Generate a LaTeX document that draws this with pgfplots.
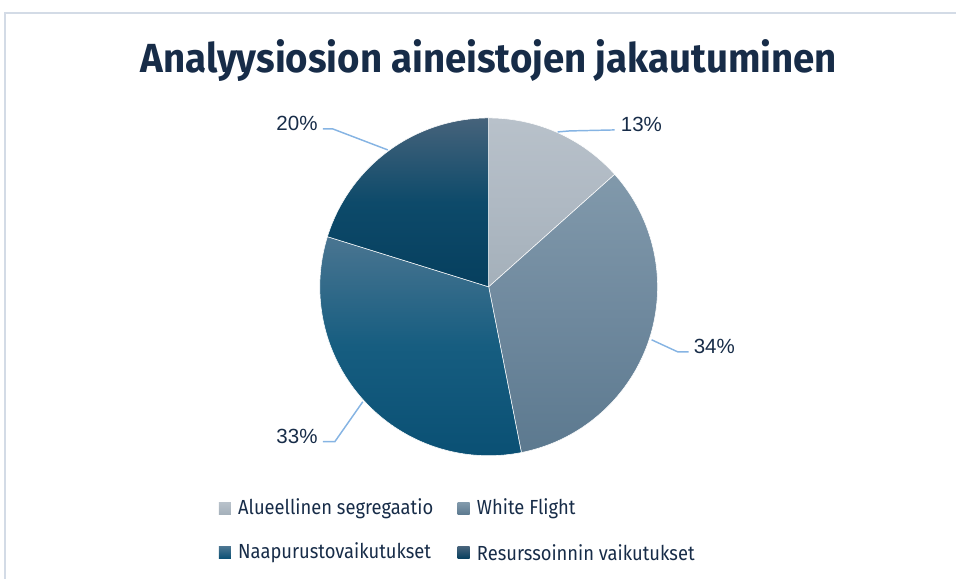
\documentclass[border=0pt]{standalone}
\usepackage{fontspec}
\setmainfont{Liberation Sans}
\newfontfamily\titlefont[FakeStretch=0.945]{Fira Sans}
\newfontfamily\legfont[FakeStretch=0.90]{Fira Sans}
\usepackage{pgfplots}
\usepackage{pgfplotstable}
\pgfplotsset{compat=1.18}

\definecolor{txt}{HTML}{172C48}
\definecolor{lead}{HTML}{86B4E3}
\definecolor{frame}{HTML}{D3DBE6}
\definecolor{sAt}{HTML}{B8C1CA}\definecolor{sAm}{HTML}{AFB9C3}\definecolor{sAb}{HTML}{A4B0BA}
\definecolor{sBt}{HTML}{8199AB}\definecolor{sBm}{HTML}{6F899E}\definecolor{sBb}{HTML}{5C798F}
\definecolor{sCt}{HTML}{4A7591}\definecolor{sCm}{HTML}{165D80}\definecolor{sCb}{HTML}{0A5074}
\definecolor{sDt}{HTML}{46637B}\definecolor{sDm}{HTML}{0D4A6A}\definecolor{sDb}{HTML}{063F5E}

% shares of the four categories, in percent
\pgfplotstableread{
share
13.4
33.5
32.9
20.2
}\piedata

\pgfplotstablegetelem{0}{share}\of\piedata\let\va\pgfplotsretval
\pgfplotstablegetelem{1}{share}\of\piedata\let\vb\pgfplotsretval
\pgfplotstablegetelem{2}{share}\of\piedata\let\vc\pgfplotsretval
\pgfplotstablegetelem{3}{share}\of\piedata\let\vd\pgfplotsretval
\pgfmathsetmacro\aA{0}
\pgfmathsetmacro\aB{3.6*\va}
\pgfmathsetmacro\aC{3.6*(\va+\vb)}
\pgfmathsetmacro\aD{3.6*(\va+\vb+\vc)}
\pgfmathsetmacro\aE{3.6*(\va+\vb+\vc+\vd)}

\begin{document}
\begin{tikzpicture}
\begin{axis}[
  scale only axis, width=717.75pt, height=434.25pt,
  xmin=0, xmax=957, ymin=0, ymax=579, y dir=reverse,
  hide axis, clip=false,
]
\path[draw=none] (axis cs:0,0) rectangle (axis cs:957,579);
% frame
\draw[frame, line width=0.9pt] (axis cs:5,579) -- (axis cs:5,13) -- (axis cs:957,13);

% title
\node[txt, anchor=base, font={\titlefont\bfseries\fontsize{30.5}{34}\selectfont}] at (axis cs:489,73) {Analyysiosion aineistojen jakautuminen};

% slices
\addplot[draw=white, line width=0.4pt, top color=sAt, bottom color=sAb, middle color=sAm, domain=\aA:\aB, samples=40, variable=\t]
  ({489+169*sin(\t)},{287-169*cos(\t)}) -- (axis cs:489,287) -- cycle;
\addplot[draw=white, line width=0.4pt, top color=sBt, bottom color=sBb, middle color=sBm, domain=\aB:\aC, samples=80, variable=\t]
  ({489+169*sin(\t)},{287-169*cos(\t)}) -- (axis cs:489,287) -- cycle;
\addplot[draw=white, line width=0.4pt, top color=sCt, bottom color=sCb, middle color=sCm, domain=\aC:\aD, samples=80, variable=\t]
  ({489+169*sin(\t)},{287-169*cos(\t)}) -- (axis cs:489,287) -- cycle;
\addplot[draw=white, line width=0.4pt, top color=sDt, bottom color=sDb, middle color=sDm, domain=\aD:\aE, samples=60, variable=\t]
  ({489+169*sin(\t)},{287-169*cos(\t)}) -- (axis cs:489,287) -- cycle;

% leader lines
\addplot[lead, line width=1.1pt, mark=none] coordinates {(558,132) (570,131) (615,130)};
\addplot[lead, line width=1.1pt, mark=none] coordinates {(652,340) (678,352) (689,352)};
\addplot[lead, line width=1.1pt, mark=none] coordinates {(363,402) (335,442) (323,442)};
\addplot[lead, line width=1.1pt, mark=none] coordinates {(388,150) (333,129) (323,129)};

% data labels
\node[txt, anchor=west, font=\fontsize{15.4}{18}\selectfont, inner sep=0pt] at (axis cs:621,125) {13\%};
\node[txt, anchor=west, font=\fontsize{15.4}{18}\selectfont, inner sep=0pt] at (axis cs:694,347) {34\%};
\node[txt, anchor=east, font=\fontsize{15.4}{18}\selectfont, inner sep=0pt] at (axis cs:318,437) {33\%};
\node[txt, anchor=east, font=\fontsize{15.4}{18}\selectfont, inner sep=0pt] at (axis cs:318,124) {20\%};

% legend
\path[top color=sAt, bottom color=sAb] (axis cs:219,503) rectangle (axis cs:231,515);
\path[top color=sBt, bottom color=sBb] (axis cs:458,503) rectangle (axis cs:470,515);
\path[top color=sCt, bottom color=sCb] (axis cs:219,547) rectangle (axis cs:231,559);
\path[top color=sDt, bottom color=sDb] (axis cs:458,547) rectangle (axis cs:470,559);
\node[txt, anchor=west, inner sep=0pt, font={\legfont\fontsize{15.3}{18}\selectfont}] at (axis cs:238,509) {Alueellinen segregaatio};
\node[txt, anchor=west, inner sep=0pt, font={\legfont\fontsize{15.3}{18}\selectfont}] at (axis cs:477,509) {White Flight};
\node[txt, anchor=west, inner sep=0pt, font={\legfont\fontsize{15.3}{18}\selectfont}] at (axis cs:238,553) {Naapurustovaikutukset};
\node[txt, anchor=west, inner sep=0pt, font={\legfont\fontsize{15.3}{18}\selectfont}] at (axis cs:477,553) {Resurssoinnin vaikutukset};
\end{axis}
\end{tikzpicture}
\end{document}
